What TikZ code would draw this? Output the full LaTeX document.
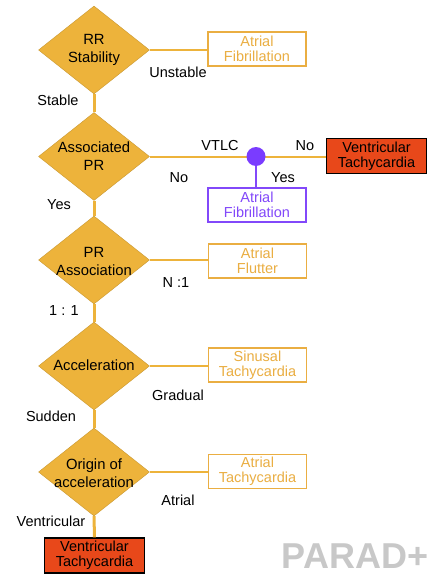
\documentclass[tikz,border=0pt]{standalone}
\usepackage{fontspec}
\setmainfont{Liberation Sans}
\usetikzlibrary{shapes.geometric}
\definecolor{dorange}{RGB}{237,179,59}
\definecolor{borange}{RGB}{234,174,66}
\definecolor{vred}{RGB}{232,72,26}
\definecolor{vpurple}{RGB}{130,72,250}
\definecolor{dpurple}{RGB}{122,60,255}
\definecolor{wgray}{RGB}{200,200,200}
\tikzset{
  dia/.style={diamond, fill=dorange, draw=dorange!85!black, line width=0.4pt, inner sep=0pt, minimum width=111pt, minimum height=88pt},
  diatext/.style={align=center, font=\fontsize{14.8}{18}\selectfont, text=black, inner sep=0pt},
  obox/.style={draw=borange, line width=1.6pt, fill=white, text=borange, minimum width=98pt, minimum height=34pt, align=center, inner sep=0pt, font=\fontsize{14.5}{15}\selectfont},
  pbox/.style={obox, draw=vpurple, text=vpurple},
  rbox/.style={draw=black, line width=1.2pt, fill=vred, text=black, minimum width=100pt, minimum height=35pt, align=center, inner sep=0pt, font=\fontsize{14.5}{15}\selectfont},
  lab/.style={font=\fontsize{14.5}{16}\selectfont, text=black, inner sep=0pt},
  vline/.style={draw=dorange, line width=3pt},
  hline/.style={draw=dorange, line width=2pt},
}
\begin{document}
\begin{tikzpicture}[x=1pt,y=-1pt]
\useasboundingbox (0,0) rectangle (441,583);
% diamonds
\node[dia] (d1) at (94,50) {};
\node[dia] (d2) at (94,156.5) {};
\node[dia] (d3) at (94,260) {};
\node[dia] (d4) at (94,366) {};
\node[dia] (d5) at (94,472) {};
% vertical connectors
\draw[vline] (d1.south) -- (d2.north);
\draw[vline] (d2.south) -- (d3.north);
\draw[vline] (d3.south) -- (d4.north);
\draw[vline] (d4.south) -- (d5.north);
\node[rbox] (v2) at (94.5,555.5) {Ventricular\\Tachycardia};
\draw[vline] (d5.south) -- (v2.north);
% diamond texts
\node[diatext] (t1) at (94,50) {RR\\Stability};
\node[diatext] (t2) at (94,156.5) {Associated\\PR};
\node[diatext] (t3) at (94,261) {PR\\Association};
\node[diatext] (t4) at (94,365) {Acceleration};
\node[diatext] (t5) at (94,473) {Origin of\\acceleration};
% right boxes
\node[obox] (b1) at (257,49) {Atrial\\Fibrillation};
\node[obox] (b3) at (257.5,261) {Atrial\\Flutter};
\node[obox] (b4) at (257.5,365) {Sinusal\\Tachycardia};
\node[obox] (b5) at (257.5,471.5) {Atrial\\Tachycardia};
\node[pbox] (b2p) at (257,205) {Atrial\\Fibrillation};
\node[rbox] (v1) at (376.5,156) {Ventricular\\Tachycardia};
\coordinate (dot) at (256,156.5);
% horizontal connectors
\draw[hline] (d1.east) -- (d1.east -| b1.west);
\draw[hline] (d2.east) -- (v1.west |- d2.east);
\draw[hline] (d3.east) -- (d3.east -| b3.west);
\draw[hline] (d4.east) -- (d4.east -| b4.west);
\draw[hline] (d5.east) -- (d5.east -| b5.west);
\draw[draw=vpurple, line width=2pt] (dot) -- (dot |- b2p.north);
\fill[dpurple] (dot) circle (9.5pt);
% labels
\node[lab] (l1) at (58,100) {Stable};
\node[lab] (l2) at (178,72) {Unstable};
\node[lab] (l3) at (220,146) {VTLC};
\node[lab] (l4) at (305,146) {No};
\node[lab] (l5) at (179,178) {No};
\node[lab] (l6) at (283,178) {Yes};
\node[lab] (l7) at (59,205) {Yes};
\node[lab] (l8) at (176,283) {N :1};
\node[lab] (l9) at (64,311) {1 : 1};
\node[lab] (l10) at (178,395) {Gradual};
\node[lab] (l11) at (51,416) {Sudden};
\node[lab] (l12) at (178,500) {Atrial};
\node[lab] (l13) at (51,521) {Ventricular};
\node[font=\fontsize{36}{40}\selectfont\bfseries, text=wgray, inner sep=0pt] (wm) at (355,556.5) {PARAD+};
\end{tikzpicture}
\end{document}
